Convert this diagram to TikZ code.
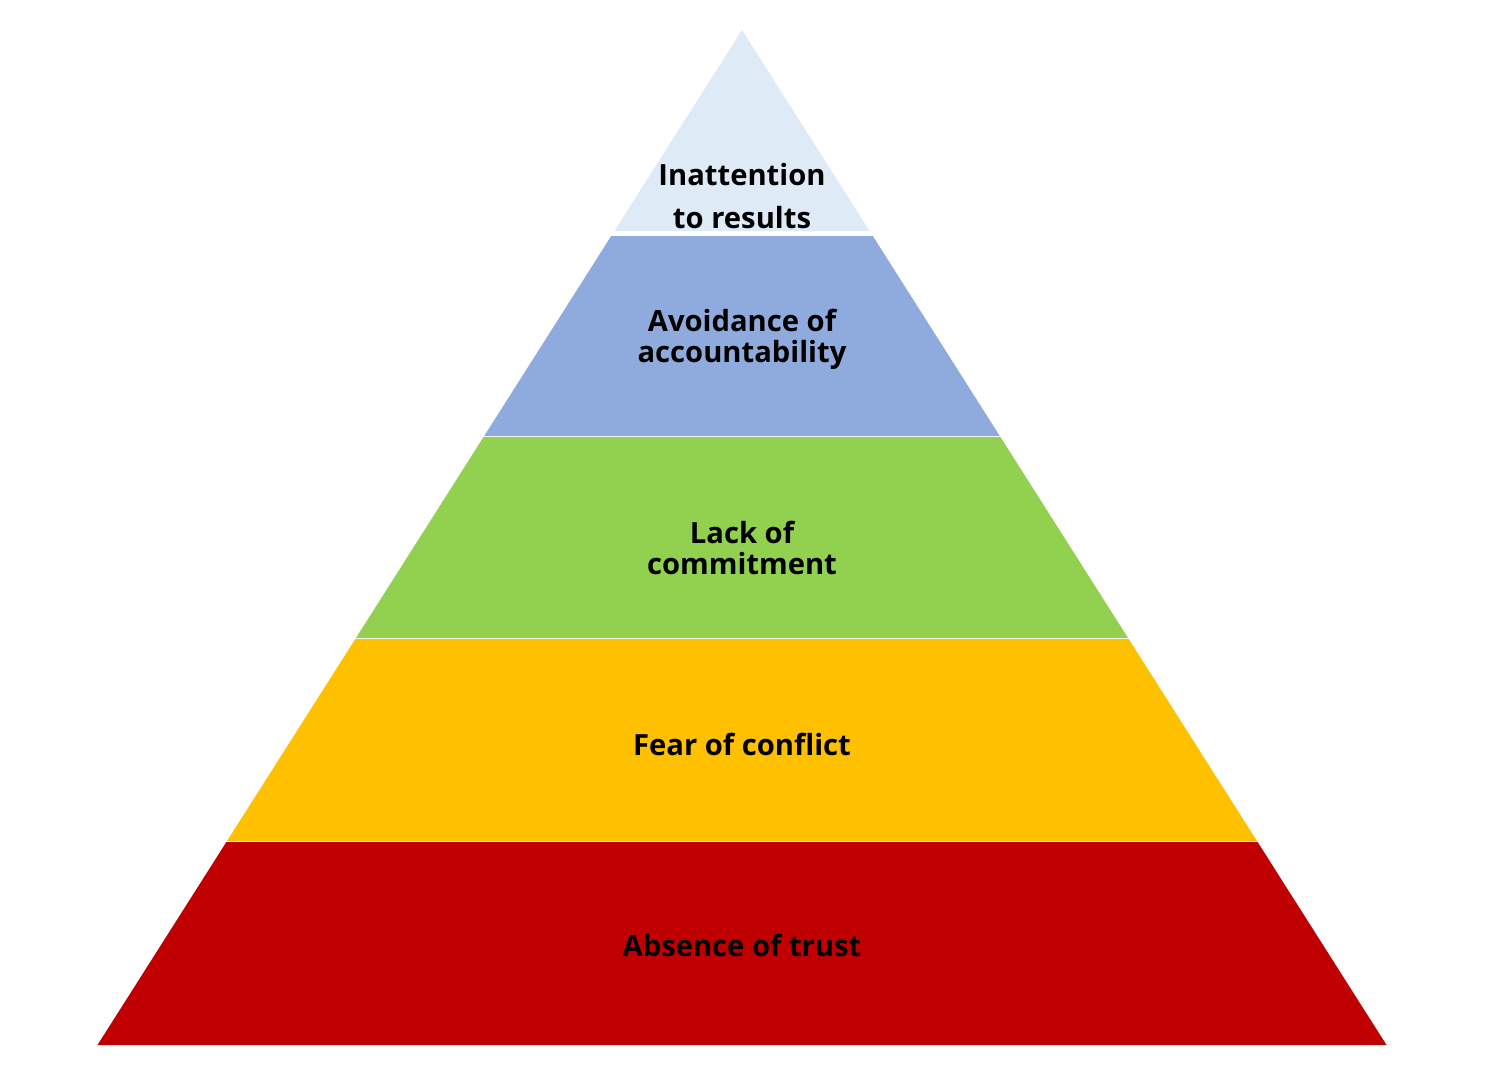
\documentclass[tikz,border=0pt]{standalone}
\usepackage{fontspec}
\setmainfont{Open Sans}
\usepackage{tikz}
\usetikzlibrary{positioning}
\definecolor{TopBlue}{HTML}{DEEBF7}
\definecolor{MidBlue}{HTML}{8FAADC}
\definecolor{LeafGreen}{HTML}{92D050}
\definecolor{AmberGold}{HTML}{FFC000}
\definecolor{DeepRed}{HTML}{C00000}
\newcommand{\pyrlayer}[3]{%
  \fill[#3] ({742-0.635*(#1-30)},#1)--({742+0.635*(#1-30)},#1)--({742+0.635*(#2-30)},#2)--({742-0.635*(#2-30)},#2)--cycle;}

\begin{document}
\begin{tikzpicture}[x=0.5pt,y=-0.5pt,
  tier/.style={align=center,inner sep=0pt,font=\fontsize{14.6}{15.5}\selectfont\bfseries}]
  \useasboundingbox (0,0) rectangle (1485,1092);
  \pyrlayer{30}{231}{TopBlue}
  \pyrlayer{236}{436}{MidBlue}
  \pyrlayer{437}{638}{LeafGreen}
  \pyrlayer{639}{841}{AmberGold}
  \pyrlayer{842}{1045}{DeepRed}
  \node[tier] (results) at (742,196) {Inattention\\[6pt]to results};
  \node[tier] (account) at (742,339) {Avoidance of\\accountability};
  \node[tier] (commit) at (742,548) {Lack of\\commitment};
  \node[tier] (conflict) at (742,744) {Fear of conflict};
  \node[tier] (trust) at (742,945) {Absence of trust};
\end{tikzpicture}
\end{document}
